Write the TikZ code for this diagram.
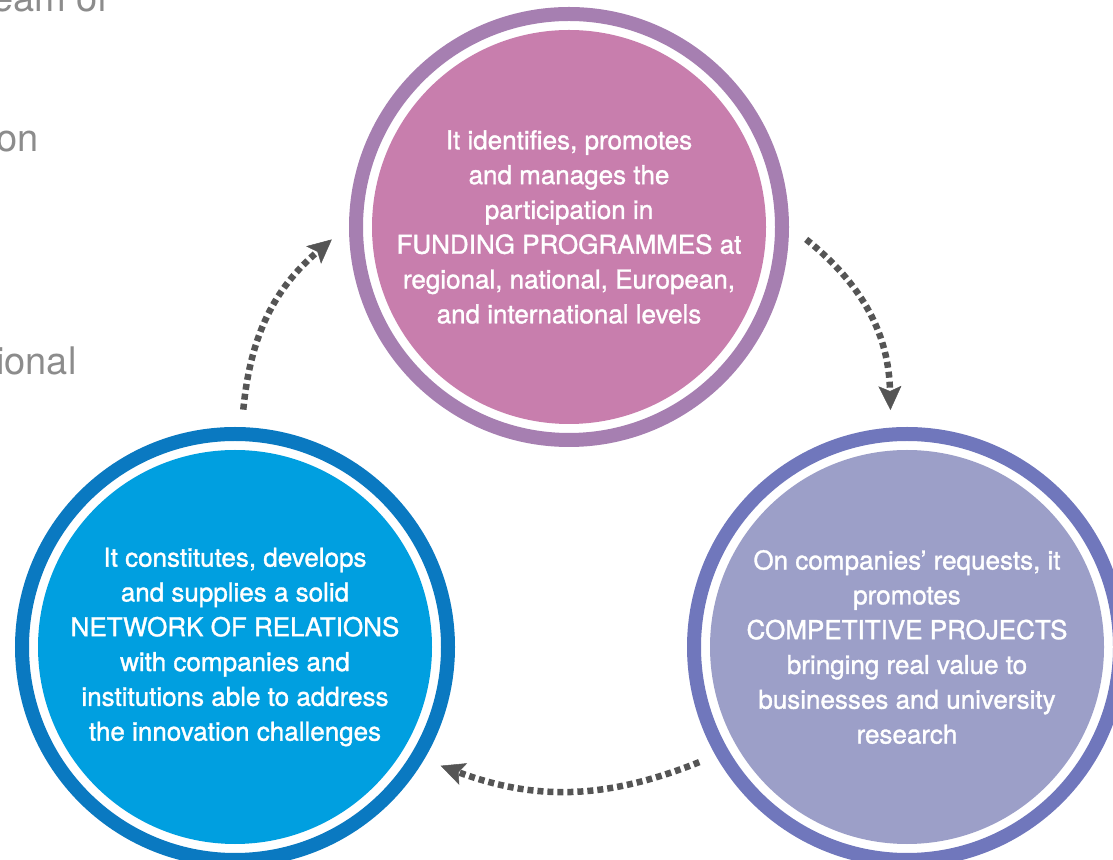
\documentclass[tikz,border=0pt]{standalone}
\usepackage{fontspec}
\setmainfont{TeX Gyre Heros}
\newfontfamily\bubblefont{TeX Gyre Heros}[Ligatures=TeX, FakeBold=1.3]
\usetikzlibrary{positioning, arrows.meta}
\definecolor{fundring}{HTML}{A67FB1}
\definecolor{fundfill}{HTML}{C87EAD}
\definecolor{netring}{HTML}{0A79C1}
\definecolor{netfill}{HTML}{009FE0}
\definecolor{projring}{HTML}{7077BC}
\definecolor{projfill}{HTML}{9C9FC8}
\definecolor{flowgray}{HTML}{555555}
\definecolor{sidegray}{HTML}{8C8C8C}

\begin{document}
\begin{tikzpicture}[x=1pt, y=1pt, on grid,
    bubble/.style={circle, draw=#1ring, fill=white, line width=14pt, minimum size=426pt,
      inner sep=0pt, outer sep=24.5pt, text=white, align=center,
      font=\bubblefont\fontsize{26}{34.8}\selectfont,
      path picture={\fill[#1fill] (path picture bounding box.center) circle (197pt);}},
    flow/.style={draw=flowgray, line width=6.5pt, dash pattern=on 6pt off 4pt,
      -{Stealth[length=24pt, width=23pt, inset=5pt, line width=0.5pt]}, bend left=#1},
    side/.style={anchor=base east, text=sidegray, font=\fontsize{38}{44}\selectfont}]
      \useasboundingbox (0,0) rectangle (1113,859);
      \clip (0,0) rectangle (1113,859);

      \node[side] (team) at (112,847) {eam of};
      \node[side] (on) at (42,707) {on};
      \node[side] (ional) at (80,484) {ional};

      \node[bubble=net] (net) at (235,212) {It constitutes, develops\\and supplies a solid\\NETWORK OF RELATIONS\\with companies and\\institutions able to address\\the innovation challenges};
      \node[bubble=fund, above right=420pt and 334pt of net] (fund) {It identifies, promotes\\and manages the\\participation in\\FUNDING PROGRAMMES at\\regional, national, European,\\and international levels};
      \node[bubble=proj, right=672pt of net] (proj) {On companies' requests, it\\promotes\\COMPETITIVE PROJECTS\\bringing real value to\\businesses and university\\research};

      \draw[flow=22] (net.88) to (fund.183);
      \draw[flow=25] (fund.357) to (proj.94);
      \draw[flow=21] (proj.209) to (net.330);
    \end{tikzpicture}
\end{document}
